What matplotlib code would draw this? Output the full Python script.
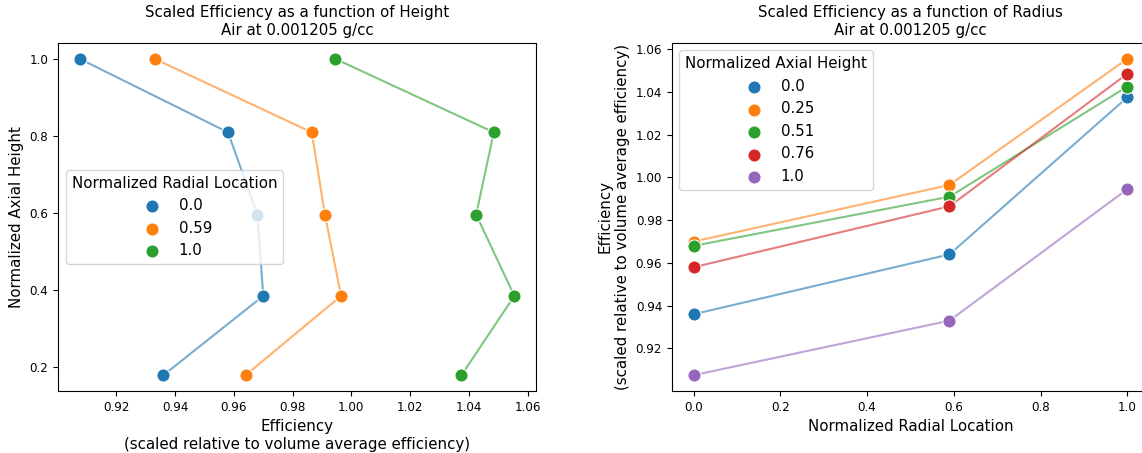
import numpy as np
import matplotlib
matplotlib.use("Agg")
import matplotlib.pyplot as plt

# normalized axial heights as plotted on the left chart
axial_height = [0.178, 0.384, 0.595, 0.809, 1.0]
axial_labels = ["0.0", "0.25", "0.51", "0.76", "1.0"]

radial_location = [0.0, 0.59, 1.0]
radial_labels = ["0.0", "0.59", "1.0"]

# scaled efficiency, rows = axial height, cols = radial location
eff_h000 = [0.936, 0.964, 1.0375]
eff_h025 = [0.970, 0.9965, 1.0555]
eff_h051 = [0.968, 0.991, 1.0425]
eff_h076 = [0.958, 0.9865, 1.0485]
eff_h100 = [0.9075, 0.933, 0.9945]

eff = np.array([eff_h000, eff_h025, eff_h051, eff_h076, eff_h100])

colors = ["#1f77b4", "#ff7f0e", "#2ca02c", "#d62728", "#9467bd"]

TICK = 8.6
LAB = 10.8

fig = plt.figure(figsize=(11.42, 4.53), dpi=100)
ax1 = fig.add_axes([0.0508, 0.1369, 0.4186, 0.7682])
ax2 = fig.add_axes([0.5884, 0.1369, 0.4177, 0.7682])

# left: efficiency vs height, one series per radial location
for j, lab in enumerate(radial_labels):
    ax1.plot(eff[:, j], axial_height, color=colors[j], alpha=0.6, lw=1.5, zorder=2)
    ax1.scatter(eff[:, j], axial_height, s=90, color=colors[j], edgecolor="white",
                linewidth=0.8, label=lab, zorder=3)

ax1.set_title("Scaled Efficiency as a function of Height\nAir at 0.001205 g/cc", fontsize=LAB)
ax1.set_xlabel("Efficiency\n(scaled relative to volume average efficiency)", fontsize=LAB)
ax1.set_ylabel("Normalized Axial Height", fontsize=LAB)
ax1.set_xticks([0.92, 0.94, 0.96, 0.98, 1.00, 1.02, 1.04, 1.06])
ax1.set_yticks([0.2, 0.4, 0.6, 0.8, 1.0])
ax1.tick_params(labelsize=TICK)
ax1.legend(title="Normalized Radial Location", loc="center left",
           fontsize=LAB, title_fontsize=LAB)

# right: efficiency vs radius, one series per axial height
for i, lab in enumerate(axial_labels):
    ax2.plot(radial_location, eff[i], color=colors[i], alpha=0.6, lw=1.5, zorder=2)
    ax2.scatter(radial_location, eff[i], s=90, color=colors[i], edgecolor="white",
                linewidth=0.8, label=lab, zorder=3)

ax2.set_xlim(-0.05, 1.05)
ax2.set_title("Scaled Efficiency as a function of Radius\nAir at 0.001205 g/cc", fontsize=LAB)
ax2.set_xlabel("Normalized Radial Location", fontsize=LAB)
ax2.set_ylabel("Efficiency\n(scaled relative to volume average efficiency)", fontsize=LAB)
ax2.set_xticks([0.0, 0.2, 0.4, 0.6, 0.8, 1.0])
ax2.set_yticks([0.92, 0.94, 0.96, 0.98, 1.00, 1.02, 1.04, 1.06])
ax2.tick_params(labelsize=TICK)
ax2.legend(title="Normalized Axial Height", loc="upper left",
           fontsize=LAB, title_fontsize=LAB)

fig.savefig("out.png", dpi=100)
